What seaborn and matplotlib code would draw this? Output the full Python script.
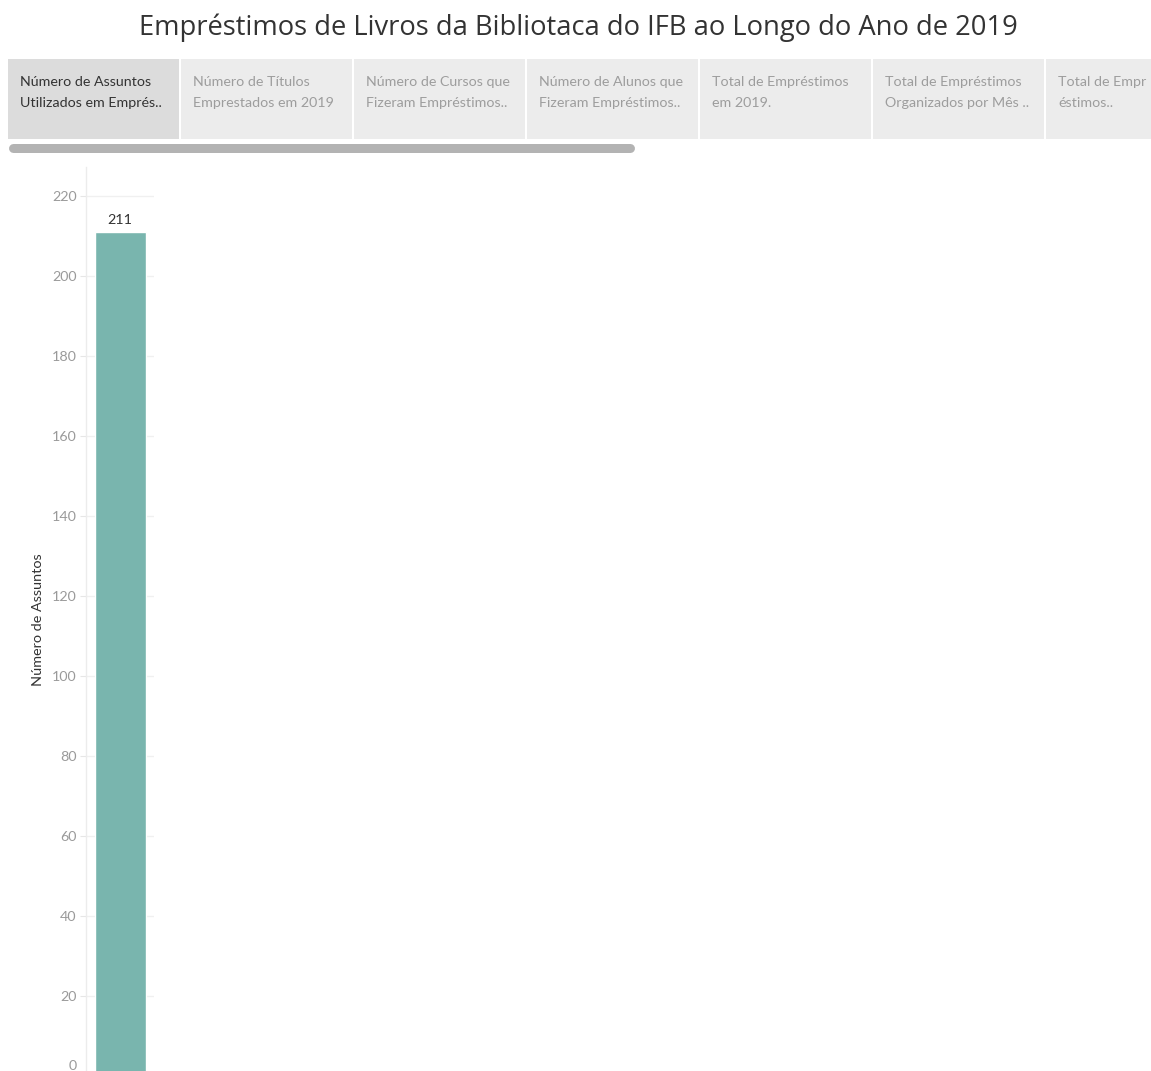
import matplotlib
matplotlib.use("Agg")
import matplotlib.pyplot as plt
from matplotlib.patches import Rectangle
from matplotlib.lines import Line2D
import seaborn as sns
import pandas as pd

# Data
categories = ["Assuntos"]
values = [211]
y_ticks = [0, 20, 40, 60, 80, 100, 120, 140, 160, 180, 200, 220]
tab_labels = [
    ("Número de Assuntos", "Utilizados em Emprés.."),
    ("Número de Títulos", "Emprestados em 2019"),
    ("Número de Cursos que", "Fizeram Empréstimos.."),
    ("Número de Alunos que", "Fizeram Empréstimos.."),
    ("Total de Empréstimos", "em 2019."),
    ("Total de Empréstimos", "Organizados por Mês .."),
    ("Total de Empr", "éstimos.."),
]
title = "Empréstimos de Livros da Bibliotaca do IFB ao Longo do Ano de 2019"
y_label = "Número de Assuntos"

W, H = 1151, 1071
sns.set_theme(style="white")
plt.rcParams["font.family"] = ["Lato", "DejaVu Sans"]

fig = plt.figure(figsize=(W / 100, H / 100), dpi=100)


def fx(px):
    return px / W


def fy(py):
    return 1 - py / H


# Title
fig.text(fx(578), fy(28), title, ha="center", va="center", fontsize=19.7,
         color="#333333", family=["Open Sans", "DejaVu Sans"])

# Tab strip
tab_x0, tab_w, tab_gap = 8, 171, 2
tab_top, tab_bot = 59, 139
for i, (line1, line2) in enumerate(tab_labels):
    x0 = tab_x0 + i * (tab_w + tab_gap)
    face = "#dcdcdc" if i == 0 else "#ececec"
    fig.add_artist(Rectangle((fx(x0), fy(tab_bot)), fx(tab_w), (tab_bot - tab_top) / H,
                             facecolor=face, edgecolor="none", transform=fig.transFigure))
    col = "#333333" if i == 0 else "#9d9d9d"
    fig.text(fx(x0 + 12), fy(86), line1, ha="left", va="baseline", fontsize=10.3, color=col)
    fig.text(fx(x0 + 12), fy(107), line2, ha="left", va="baseline", fontsize=10.3, color=col)

# Scrollbar
fig.add_artist(Line2D([fx(12.5), fx(629.5)], [fy(147.5), fy(147.5)], color="#b3b3b3",
                      linewidth=9 * 0.72, solid_capstyle="round",
                      transform=fig.transFigure))

# Bar chart axes
ax_left, ax_right = 86, 154
ax_top, ax_zero = 167, 1076
ymax = (ax_zero - ax_top) / 4.0
ax = fig.add_axes([fx(ax_left), fy(ax_zero), fx(ax_right - ax_left), (ax_zero - ax_top) / H])

df = pd.DataFrame({"cat": categories, "val": values})
sns.barplot(data=df, x="cat", y="val", color="#79b5ae", saturation=1, width=0.75, ax=ax)
ax.set_xlim(-0.5, 0.5)
ax.set_ylim(0, ymax)
ax.set_yticks(y_ticks)
# the zero label is drawn separately, lifted so it stays inside the view
ax.set_yticklabels(["" if t == 0 else str(t) for t in y_ticks])
ax.tick_params(axis="y", length=4.3, width=0.8, color="#e6e6e6", labelcolor="#9a9a9a",
               labelsize=10.3, pad=2.4, left=True)
ax.annotate("0", xy=(0, 0), xycoords=("axes fraction", "data"), xytext=(-9, 10),
            textcoords="offset pixels", ha="right", va="center", fontsize=10.3,
            color="#9a9a9a", annotation_clip=False)
ax.set_xticks([])
ax.set_xlabel("")
ax.set_ylabel(y_label, fontsize=10.4, color="#333333")
ax.yaxis.set_label_coords((44 - ax_left) / (ax_right - ax_left),
                          (ax_zero - 620) / (ax_zero - ax_top))
for t in y_ticks:
    ax.axhline(t, color="#f0f0f0", lw=1, zorder=0)
for s in ["top", "right", "bottom"]:
    ax.spines[s].set_visible(False)
ax.spines["left"].set_color("#ececec")
ax.spines["left"].set_linewidth(1)
ax.set_facecolor("none")

for p, v in zip(ax.patches, values):
    ax.text(p.get_x() + p.get_width() / 2, v + 1.5, str(v), ha="center", va="bottom",
            fontsize=10.3, color="#333333")

fig.savefig("out.png", dpi=100)
